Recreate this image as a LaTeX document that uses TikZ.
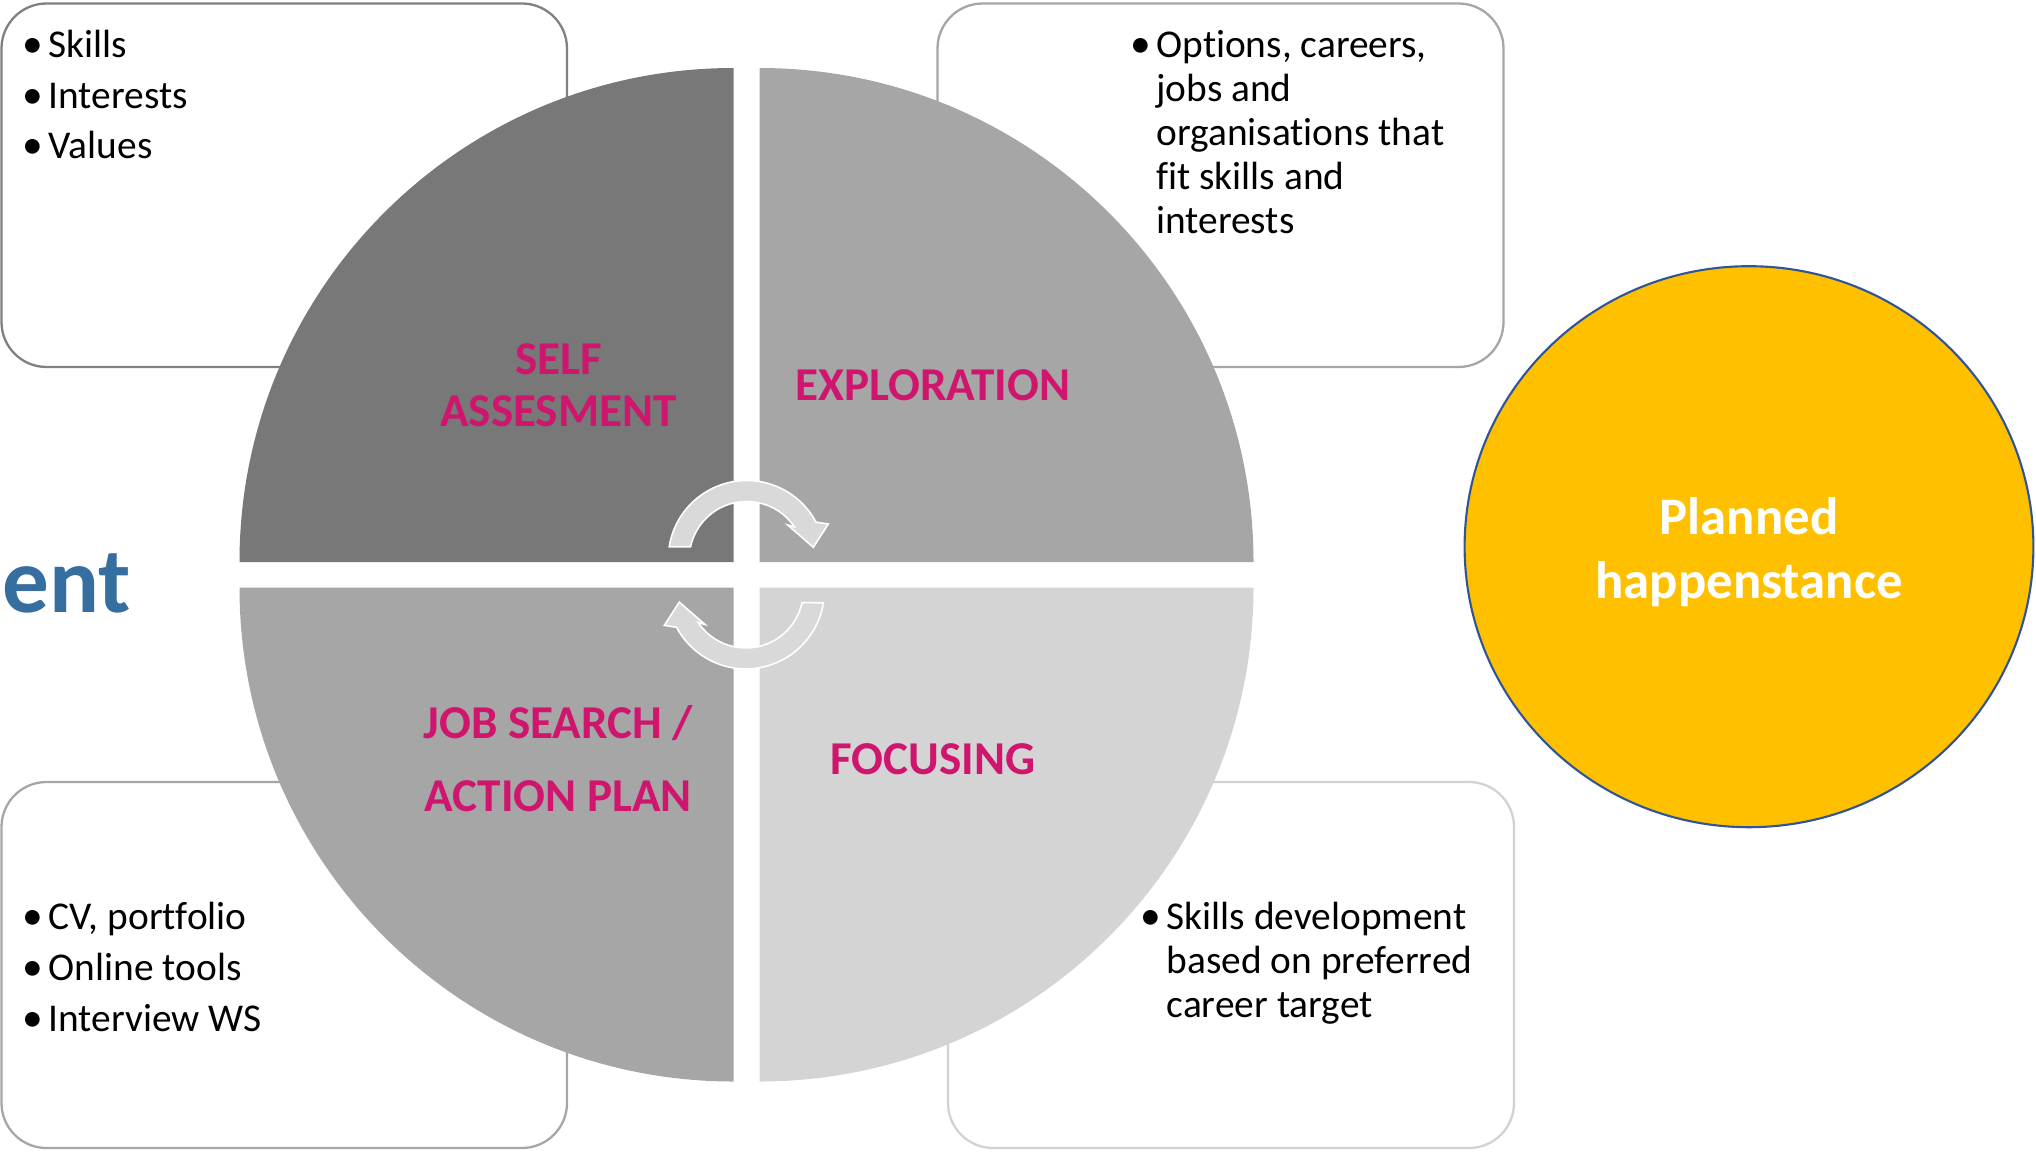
\documentclass[tikz,border=0pt]{standalone}
\usepackage{fontspec}
\setmainfont{Carlito}[Ligatures={NoCommon}]
\definecolor{qdark}{RGB}{120,120,120}
\definecolor{qmid}{RGB}{166,166,166}
\definecolor{qlight}{RGB}{212,212,212}
\definecolor{magentalbl}{RGB}{208,21,110}
\definecolor{arrowgray}{RGB}{217,217,217}
\definecolor{ambre}{RGB}{255,192,0}
\definecolor{ringblue}{RGB}{47,85,151}
\definecolor{headblue}{RGB}{54,110,160}
\definecolor{bdrA}{RGB}{128,128,128}
\definecolor{bdrB}{RGB}{166,166,166}
\definecolor{bdrC}{RGB}{210,210,210}
\tikzset{
  boxframe/.style={fill=white, line width=0.65pt, rounded corners=0.45cm},
  qlabel/.style={anchor=base, inner sep=0pt, text=magentalbl, font=\fontsize{13.4}{15}\selectfont\bfseries},
  btext/.style={anchor=base west, inner sep=0pt, font=\fontsize{11.2}{13}\selectfont},
  bdot/.style={anchor=base east, inner sep=0pt, font=\fontsize{11.8}{13}\selectfont},
  cyc/.style={fill=arrowgray, draw=white, line width=0.45pt, line join=miter},
}
\newcommand{\cyclearrowpath}{%
  (669.2,546.7) arc[start angle=189, end angle=332, radius=78.5]
  -- (828.3,524) -- (813.3,547.3) -- (787.7,525) -- (794.4,526.8)
  arc[start angle=326, end angle=192.3, radius=57.5] -- cycle}
\begin{document}
\begin{tikzpicture}[x=0.01cm, y=-0.01cm]
\useasboundingbox (0,0) rectangle (2036,1151);

% text boxes
\draw[boxframe, draw=bdrA] (1.5,3.5) rectangle (567,367);
\draw[boxframe, draw=bdrB] (937.5,3.5) rectangle (1503.5,367);
\draw[boxframe, draw=bdrB] (1.5,782) rectangle (567,1148);
\draw[boxframe, draw=bdrC] (948,782) rectangle (1514,1148);

% quadrants
\fill[qdark] (733.5,562) -- (239.5,562) arc[start angle=180, end angle=270, radius=494] -- cycle;
\fill[qmid] (759.5,562) -- (759.5,68) arc[start angle=270, end angle=360, radius=494] -- cycle;
\fill[qlight] (759.5,587.5) -- (1253.5,587.5) arc[start angle=0, end angle=90, radius=494] -- cycle;
\fill[qmid] (733.5,587.5) -- (733.5,1081.5) arc[start angle=90, end angle=180, radius=494] -- cycle;

% circular arrows
\path[cyc] \cyclearrowpath;
\begin{scope}[rotate around={180:(746.3,574.7)}]
\path[cyc] \cyclearrowpath;
\end{scope}

% quadrant labels
\node[qlabel] (self1) at (558.4,374.8) {SELF};
\node[qlabel] (self2) at (558.4,426.7) {ASSESMENT};
\node[qlabel] (expl) at (932.8,400.8) {EXPLORATION};
\node[qlabel] (job1) at (558.4,738.4) {JOB SEARCH /};
\node[qlabel] (job2) at (558.4,811) {ACTION PLAN};
\node[qlabel] (focus) at (932.8,774.7) {FOCUSING};

% top-left box text
\node[bdot] (tlb1) at (44,57) {•};
\node[btext] (tl1) at (48,57) {Skills};
\node[bdot] (tlb2) at (44,108) {•};
\node[btext] (tl2) at (48,108) {Interests};
\node[bdot] (tlb3) at (44,158.5) {•};
\node[btext] (tl3) at (48,158.5) {Values};

% top-right box text
\node[bdot] (trb1) at (1151.7,57) {•};
\node[btext] (tr1) at (1155.7,57) {Options, careers,};
\node[btext] (tr2) at (1155.7,101.3) {jobs and};
\node[btext] (tr3) at (1155.7,145.4) {organisations that};
\node[btext] (tr4) at (1155.7,189.6) {fit skills and};
\node[btext] (tr5) at (1155.7,233.7) {interests};

% bottom-left box text
\node[bdot] (blb1) at (44,929) {•};
\node[btext] (bl1) at (48,929) {CV, portfolio};
\node[bdot] (blb2) at (44,980) {•};
\node[btext] (bl2) at (48,980) {Online tools};
\node[bdot] (blb3) at (44,1031) {•};
\node[btext] (bl3) at (48,1031) {Interview WS};

% bottom-right box text
\node[bdot] (brb1) at (1162,929) {•};
\node[btext] (br1) at (1166,929) {Skills development};
\node[btext] (br2) at (1166,973) {based on preferred};
\node[btext] (br3) at (1166,1017.5) {career target};

% planned happenstance
\draw[fill=ambre, draw=ringblue, line width=0.6pt] (1749,546.7) ellipse [x radius=284.4, y radius=280.5];
\node[anchor=base, inner sep=0pt, text=white, font=\fontsize{15}{18}\selectfont\bfseries] (ph1) at (1749,534) {Planned};
\node[anchor=base, inner sep=0pt, text=white, font=\fontsize{15}{18}\selectfont\bfseries] (ph2) at (1749,598) {happenstance};

% partial heading
\node[anchor=base west, inner sep=0pt, text=headblue, font=\fontsize{26.5}{30}\selectfont\bfseries] (ent) at (2,612) {ent};
\end{tikzpicture}
\end{document}
